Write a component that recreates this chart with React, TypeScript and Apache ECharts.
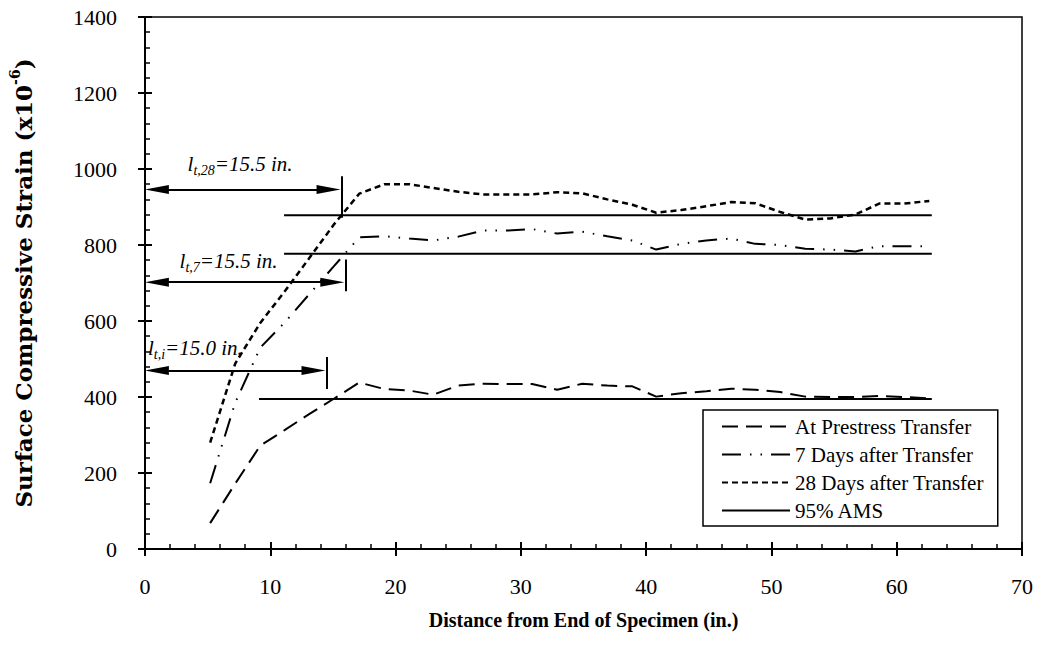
import React, { useEffect, useRef } from 'react';
import * as echarts from 'echarts';

const FONT = "'Liberation Serif', 'Times New Roman', serif";
const WIDE_FONT = "'DejaVu Serif', 'Liberation Serif', serif";

// Distance from end of specimen (in.)
const distance = [5.2, 7.2, 9.2, 11.2, 13.1, 15.1, 17.1, 19.1, 21.1, 23.0, 25.0, 27.0, 29.0, 30.9, 32.9, 34.9, 36.9, 38.9, 40.8, 42.8, 44.8, 46.8, 48.7, 50.7, 52.7, 54.7, 56.7, 58.6, 60.6, 62.6];
// Surface compressive strain (x10^-6)
const strainTransfer = [68, 172, 272, 314, 355, 396, 438, 421, 417, 406, 430, 435, 434, 434, 419, 435, 430, 428, 401, 410, 415, 422, 419, 413, 401, 400, 400, 403, 400, 396];
const strain7Days = [173, 385, 530, 598, 670, 745, 820, 823, 817, 812, 822, 838, 838, 842, 830, 835, 823, 812, 788, 803, 812, 817, 803, 800, 790, 788, 783, 797, 797, 797];
const strain28Days = [280, 488, 595, 680, 765, 855, 935, 960, 960, 950, 940, 933, 933, 933, 939, 936, 920, 906, 885, 892, 902, 913, 910, 887, 867, 870, 880, 909, 909, 916];

// 95% AMS plateaus: level, start, end
const amsLevel = [395, 777, 878];
const amsStart = [9.1, 11.1, 11.1];
const amsEnd = [62.8, 62.8, 62.8];

// Transfer length annotations
const ltSub = ['t,i', 't,7', 't,28'];
const ltValue = ['15.0', '15.5', '15.5'];
const arrowY = [470, 702, 946];
const arrowEnd = [14.4, 15.9, 15.6];
const barLow = [421, 678, 872];
const barHigh = [505, 762, 981];
const labelX = [0.24, 2.76, 3.4];
const labelY = [525, 753, 1008];
const arrowHalf = 0.95; // half arrowhead length, in axis units

const seriesNames = ['At Prestress Transfer', '7 Days after Transfer', '28 Days after Transfer', '95% AMS'];

export default function App() {
  const ref = useRef<HTMLDivElement>(null);
  useEffect(() => {
    const chart = echarts.init(ref.current!, null, { renderer: 'svg' });
    const pts = (ys: number[]) => distance.map((x, i) => [x, ys[i]]);
    const black = '#000';

    const amsSeries = amsLevel.map((v, i) => ({
      name: '95% AMS',
      type: 'line',
      symbol: 'none',
      data: [[amsStart[i], v], [amsEnd[i], v]],
      itemStyle: { color: black },
      lineStyle: { color: black, width: 2, type: 'solid' },
      z: 2,
    }));

    const arrowLines = arrowY.map((y, i) => [
      { coord: [arrowHalf, y], symbol: 'triangle' },
      { coord: [arrowEnd[i] - arrowHalf, y], symbol: 'triangle' },
    ]);
    const barLines = arrowEnd.map((x, i) => [
      { coord: [x + 0.1, barLow[i]], symbol: 'none' },
      { coord: [x + 0.1, barHigh[i]], symbol: 'none' },
    ]);

    const axisLabel = { fontFamily: FONT, fontSize: 22, color: black };

    const option: any = {
      animation: false,
      backgroundColor: '#fff',
      grid: {
        left: 142, right: 26, top: 17, bottom: 115,
        show: true, borderColor: black, borderWidth: 1.5, backgroundColor: 'transparent',
      },
      legend: {
        data: seriesNames,
        orient: 'vertical',
        left: 703,
        top: 410,
        itemWidth: 68,
        itemHeight: 16,
        itemGap: 7,
        padding: [6, 14, 5, 18],
        borderColor: black,
        borderWidth: 1.5,
        borderRadius: 0,
        backgroundColor: '#fff',
        textStyle: { fontFamily: FONT, fontSize: 21, color: black },
        itemStyle: { opacity: 0, borderWidth: 0 },
        inactiveColor: black,
      },
      xAxis: [
        {
          type: 'value', min: 0, max: 70, interval: 10, position: 'bottom',
          axisLine: { lineStyle: { color: black, width: 2 } },
          axisTick: { inside: true, length: 7, lineStyle: { color: black, width: 2 } },
          minorTick: { show: true, splitNumber: 5, length: 5, lineStyle: { color: black, width: 1.5 } },
          splitLine: { show: false },
          axisLabel: { ...axisLabel, margin: 26 },
          name: 'Distance from End of Specimen (in.)',
          nameLocation: 'middle',
          nameGap: 61,
          nameTextStyle: { fontFamily: FONT, fontSize: 20, fontWeight: 'bold', color: black },
        },
        {
          type: 'value', min: 0, max: 70, interval: 10, position: 'bottom',
          axisLine: { show: false },
          axisTick: { inside: false, length: 7, lineStyle: { color: black, width: 2 } },
          axisLabel: { show: false },
          splitLine: { show: false },
        },
      ],
      yAxis: [
        {
          type: 'value', min: 0, max: 1400, interval: 200, position: 'left',
          axisLine: { show: true, lineStyle: { color: black, width: 2 } },
          axisTick: { show: true, inside: true, length: 7, lineStyle: { color: black, width: 2 } },
          minorTick: { show: true, splitNumber: 5, length: 5, lineStyle: { color: black, width: 1.5 } },
          splitLine: { show: false },
          axisLabel: { ...axisLabel, margin: 28, formatter: (v: number) => String(v) },
          name: '{a|Surface Compressive Strain (x10}{s|-6}{a|)}',
          nameLocation: 'middle',
          nameGap: 110,
          nameRotate: 90,
          nameTextStyle: {
            color: black,
            rich: {
              a: { fontFamily: WIDE_FONT, fontSize: 23, fontWeight: 'bold', color: black, lineHeight: 27, verticalAlign: 'bottom' },
              s: { fontFamily: WIDE_FONT, fontSize: 14, fontWeight: 'bold', color: black, lineHeight: 14, verticalAlign: 'top' },
            },
          },
        },
        {
          type: 'value', min: 0, max: 1400, interval: 200, position: 'left',
          axisLine: { show: false },
          axisTick: { show: true, inside: false, length: 7, lineStyle: { color: black, width: 2 } },
          axisLabel: { show: false },
          splitLine: { show: false },
        },
      ],
      series: [
        {
          name: seriesNames[0], type: 'line', symbol: 'none', data: pts(strainTransfer),
          itemStyle: { color: black },
          lineStyle: { color: black, width: 2, type: [16, 8] },
          z: 3,
        },
        {
          name: seriesNames[1], type: 'line', symbol: 'none', data: pts(strain7Days),
          itemStyle: { color: black },
          lineStyle: { color: black, width: 2, type: [19, 9, 1.5, 9, 1.5, 9] },
          z: 3,
        },
        {
          name: seriesNames[2], type: 'line', symbol: 'none', data: pts(strain28Days),
          itemStyle: { color: black },
          lineStyle: { color: black, width: 2.5, type: [6, 4] },
          z: 3,
        },
        ...amsSeries,
        {
          name: 'annotations', type: 'line', data: [], symbol: 'none',
          markLine: {
            silent: true,
            animation: false,
            symbolSize: [9, 24],
            label: { show: false },
            lineStyle: { color: black, width: 2, type: 'solid' },
            emphasis: { disabled: true },
            data: [...arrowLines, ...barLines],
          },
          z: 4,
        },
      ],
    };
    chart.setOption(option);

    const graphics = ltSub.map((sub, i) => {
      const [px, py] = chart.convertToPixel({ xAxisIndex: 0, yAxisIndex: 0 }, [labelX[i], labelY[i]]);
      return {
        type: 'text',
        x: px,
        y: py,
        z: 10,
        style: {
          text: `{i|l}{s|${sub}}{i|=${ltValue[i]} in.}`,
          align: 'left',
          verticalAlign: 'middle',
          fill: black,
          rich: {
            i: { fontFamily: FONT, fontSize: 21, fontStyle: 'italic', fill: black, lineHeight: 21, verticalAlign: 'top' },
            s: { fontFamily: FONT, fontSize: 14, fontStyle: 'italic', fill: black, lineHeight: 24, verticalAlign: 'bottom' },
          },
        },
      };
    });
    chart.setOption({ graphic: graphics });

    return () => chart.dispose();
  }, []);
  return (
    <div
      ref={ref}
      style={{ position: 'fixed', left: 0, top: 0, width: 1048, height: 664, background: '#fff' }}
    />
  );
}
